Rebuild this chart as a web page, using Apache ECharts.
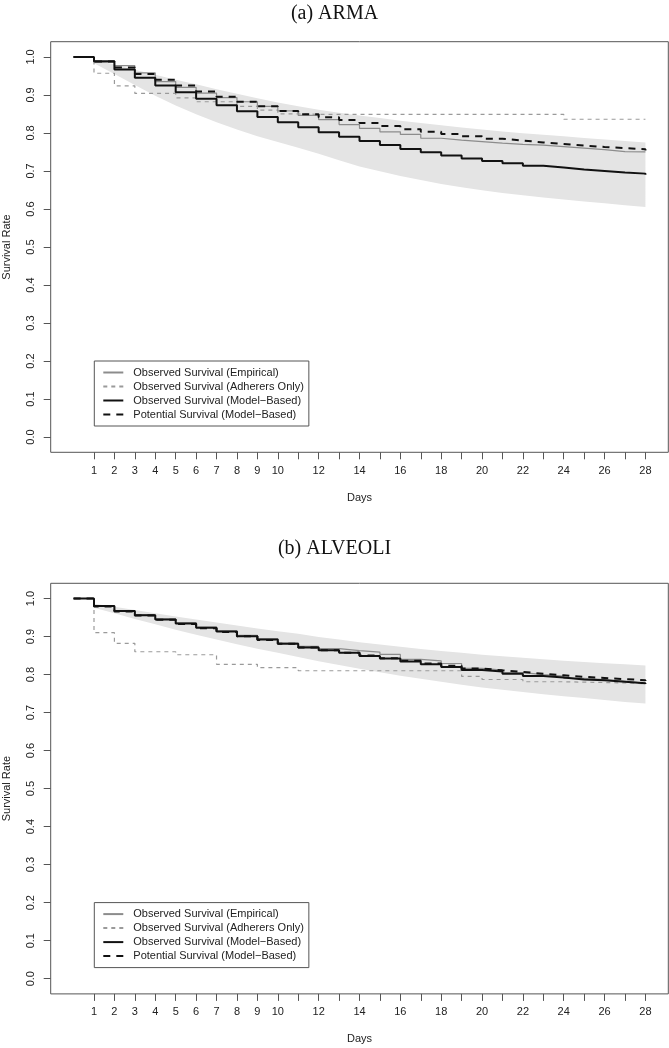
<!DOCTYPE html>
<html><head><meta charset="utf-8">
<script src="https://cdn.jsdelivr.net/npm/echarts@6/dist/echarts.min.js"></script>
<style>html,body{margin:0;padding:0;background:#fff}#c{width:669px;height:1048px}</style>
</head><body><div id="c"></div>
<script>
const DAYS = [0,1,2,3,4,5,6,7,8,9,10,11,12,13,14,15,16,17,18,19,20,21,22,23,24,25,26,27,28];
const BAND_DAYS = [1,2,3,4,5,6,7,8,9,10,11,12,13,14,15,16,17,18,19,20,21,22,23,24,25,26,27,28];
const X_TICKS = [1,2,3,4,5,6,7,8,9,10,11,12,13,14,15,16,17,18,19,20,21,22,23,24,25,26,27,28];
const X_LABELS = [1,2,3,4,5,6,7,8,9,10,12,14,16,18,20,22,24,26,28];
const Y_TICKS = [0,0.1,0.2,0.3,0.4,0.5,0.6,0.7,0.8,0.9,1.0];
const NAMES = ['Observed Survival (Empirical)','Observed Survival (Adherers Only)','Observed Survival (Model\u2212Based)','Potential Survival (Model\u2212Based)'];
const TITLES = ['(a) ARMA','(b) ALVEOLI'];

// (a) ARMA
const armaEmp   = [1.000,0.990,0.977,0.958,0.935,0.920,0.905,0.893,0.882,0.870,0.858,0.846,0.835,0.822,0.812,0.803,0.796,0.786,0.781,0.777,0.773,0.770,0.768,0.764,0.760,0.756,0.751,0.750,0.750];
const armaAdh   = [1.000,0.957,0.924,0.904,0.904,0.892,0.882,0.882,0.870,0.860,0.850,0.849,0.849,0.849,0.849,0.849,0.849,0.849,0.849,0.849,0.849,0.849,0.849,0.849,0.836,0.836,0.836,0.836,0.836];
const armaModel = [1.000,0.988,0.967,0.945,0.925,0.907,0.890,0.873,0.857,0.842,0.828,0.815,0.802,0.790,0.779,0.768,0.758,0.749,0.741,0.733,0.726,0.720,0.714,0.709,0.704,0.700,0.696,0.693,0.690];
const armaPot   = [1.000,0.988,0.972,0.955,0.940,0.925,0.909,0.895,0.882,0.870,0.858,0.849,0.841,0.834,0.826,0.818,0.810,0.803,0.797,0.791,0.785,0.780,0.775,0.771,0.767,0.763,0.760,0.757,0.754];
const armaUpper = [0.992,0.980,0.966,0.953,0.940,0.928,0.915,0.903,0.891,0.880,0.870,0.861,0.853,0.846,0.839,0.832,0.826,0.820,0.814,0.809,0.804,0.799,0.795,0.791,0.787,0.783,0.779,0.775];
const armaLower = [0.983,0.955,0.926,0.898,0.872,0.849,0.828,0.809,0.791,0.776,0.761,0.745,0.728,0.712,0.699,0.687,0.676,0.666,0.657,0.649,0.642,0.636,0.630,0.625,0.620,0.615,0.610,0.605];

// (b) ALVEOLI
const alvEmp   = [1.000,0.981,0.968,0.957,0.946,0.936,0.925,0.915,0.903,0.894,0.883,0.874,0.868,0.863,0.859,0.853,0.840,0.836,0.829,0.816,0.812,0.805,0.800,0.796,0.790,0.787,0.782,0.777,0.775];
const alvAdh   = [1.000,0.910,0.882,0.860,0.860,0.852,0.852,0.827,0.827,0.818,0.818,0.810,0.810,0.810,0.810,0.810,0.810,0.810,0.810,0.795,0.787,0.787,0.781,0.781,0.780,0.779,0.778,0.776,0.774];
const alvModel = [1.000,0.980,0.967,0.956,0.945,0.934,0.923,0.913,0.901,0.892,0.881,0.871,0.864,0.857,0.849,0.842,0.834,0.827,0.820,0.812,0.808,0.802,0.796,0.792,0.787,0.785,0.781,0.777,0.775];
const alvPot   = [1.000,0.979,0.966,0.955,0.944,0.933,0.922,0.912,0.901,0.891,0.881,0.871,0.864,0.857,0.850,0.843,0.836,0.829,0.823,0.816,0.811,0.807,0.802,0.798,0.794,0.791,0.788,0.785,0.783];
const alvUpper = [0.986,0.978,0.970,0.961,0.953,0.945,0.937,0.929,0.921,0.914,0.907,0.899,0.892,0.885,0.879,0.873,0.867,0.862,0.857,0.852,0.848,0.844,0.840,0.836,0.833,0.830,0.827,0.824];
const alvLower = [0.976,0.961,0.946,0.932,0.918,0.905,0.892,0.880,0.868,0.857,0.846,0.835,0.825,0.815,0.806,0.797,0.789,0.781,0.773,0.766,0.760,0.754,0.748,0.743,0.738,0.733,0.728,0.724];

const PANELS = [
  {emp: armaEmp, adh: armaAdh, model: armaModel, pot: armaPot, up: armaUpper, lo: armaLower},
  {emp: alvEmp, adh: alvAdh, model: alvModel, pot: alvPot, up: alvUpper, lo: alvLower}
];

const GRID_TOPS = [41.7, 583.3];
const GRID_H = 410.6;
const FONT = 'Liberation Sans, Arial, sans-serif';

const pairs = (xs, ys) => xs.map((x, i) => [x, ys[i]]);

const option = {
  animation: false,
  backgroundColor: '#fff',
  title: TITLES.map((t, i) => ({
    text: t, left: 'center', top: i === 0 ? -1 : 534,
    textStyle: {fontFamily: 'Liberation Serif, serif', fontWeight: 'normal', fontSize: 20, color: '#111'}
  })),
  grid: GRID_TOPS.map(t => ({
    left: 50.7, top: t, width: 617.6, height: GRID_H,
    outerBoundsMode: 'none', containLabel: false,
    show: true, borderColor: '#555', borderWidth: 1, backgroundColor: 'transparent'
  })),
  legend: GRID_TOPS.map((t, i) => ({
    data: NAMES, orient: 'vertical', left: 94.3, top: t + 319.3,
    padding: [6, 5, 6, 8], itemGap: 3, itemWidth: 20, itemHeight: 11,
    borderColor: '#555', borderWidth: 1, borderRadius: 0,
    selectedMode: false,
    itemStyle: {opacity: 0},
    textStyle: {fontFamily: FONT, fontSize: 11, color: '#222', padding: [0,0,0,5]}
  })),
  xAxis: GRID_TOPS.map((t, i) => ({
    gridIndex: i, type: 'value', min: -1.12, max: 29.12,
    name: 'Days', nameLocation: 'middle', nameGap: 40,
    nameTextStyle: {fontFamily: FONT, fontSize: 11, color: '#222'},
    axisLine: {show: false, onZero: false},
    axisTick: {show: true, length: 7, inside: false, customValues: X_TICKS, lineStyle: {color: '#555'}},
    axisLabel: {customValues: X_LABELS, margin: 13, fontFamily: FONT, fontSize: 11, color: '#222'},
    splitLine: {show: false}
  })),
  yAxis: GRID_TOPS.map((t, i) => ({
    gridIndex: i, type: 'value', min: -0.04, max: 1.04,
    name: 'Survival Rate', nameLocation: 'middle', nameGap: 38, nameRotate: 90,
    nameTextStyle: {fontFamily: FONT, fontSize: 11, color: '#222'},
    axisLine: {show: false, onZero: false},
    axisTick: {show: true, length: 7, inside: false, customValues: Y_TICKS, lineStyle: {color: '#555'}},
    axisLabel: {customValues: Y_TICKS, rotate: 90, margin: 14, fontFamily: FONT, fontSize: 11, color: '#222',
      formatter: v => v.toFixed(1)},
    splitLine: {show: false}
  })),
  series: []
};

PANELS.forEach((p, i) => {
  option.series.push({
    type: 'custom', xAxisIndex: i, yAxisIndex: i, silent: true, z: 1,
    data: [[BAND_DAYS[0], p.up[0]]],
    renderItem: (params, api) => {
      const pts = [];
      BAND_DAYS.forEach((d, k) => pts.push(api.coord([d, p.up[k]])));
      for (let k = BAND_DAYS.length - 1; k >= 0; k--) pts.push(api.coord([BAND_DAYS[k], p.lo[k]]));
      return {type: 'polygon', shape: {points: pts}, style: {fill: '#e4e4e4', stroke: null}};
    }
  });
  const common = {type: 'line', xAxisIndex: i, yAxisIndex: i, step: 'end', symbol: 'none', silent: true, z: 3};
  option.series.push(Object.assign({}, common, {name: NAMES[1], data: pairs(DAYS, p.adh),
    lineStyle: {color: '#9a9a9a', width: 1.2, type: [4, 4]}, itemStyle: {color: '#9a9a9a'}}));
  option.series.push(Object.assign({}, common, {name: NAMES[0], data: pairs(DAYS, p.emp),
    lineStyle: {color: '#8c8c8c', width: 1.2, type: 'solid'}, itemStyle: {color: '#8c8c8c'}}));
  option.series.push(Object.assign({}, common, {name: NAMES[2], data: pairs(DAYS, p.model),
    lineStyle: {color: '#111', width: 2, type: 'solid'}, itemStyle: {color: '#111'}}));
  option.series.push(Object.assign({}, common, {name: NAMES[3], data: pairs(DAYS, p.pot),
    lineStyle: {color: '#111', width: 2, type: [7, 6]}, itemStyle: {color: '#111'}}));
});

const chart = echarts.init(document.getElementById('c'), null, {renderer: 'canvas'});
chart.setOption(option);
</script>
</body></html>
